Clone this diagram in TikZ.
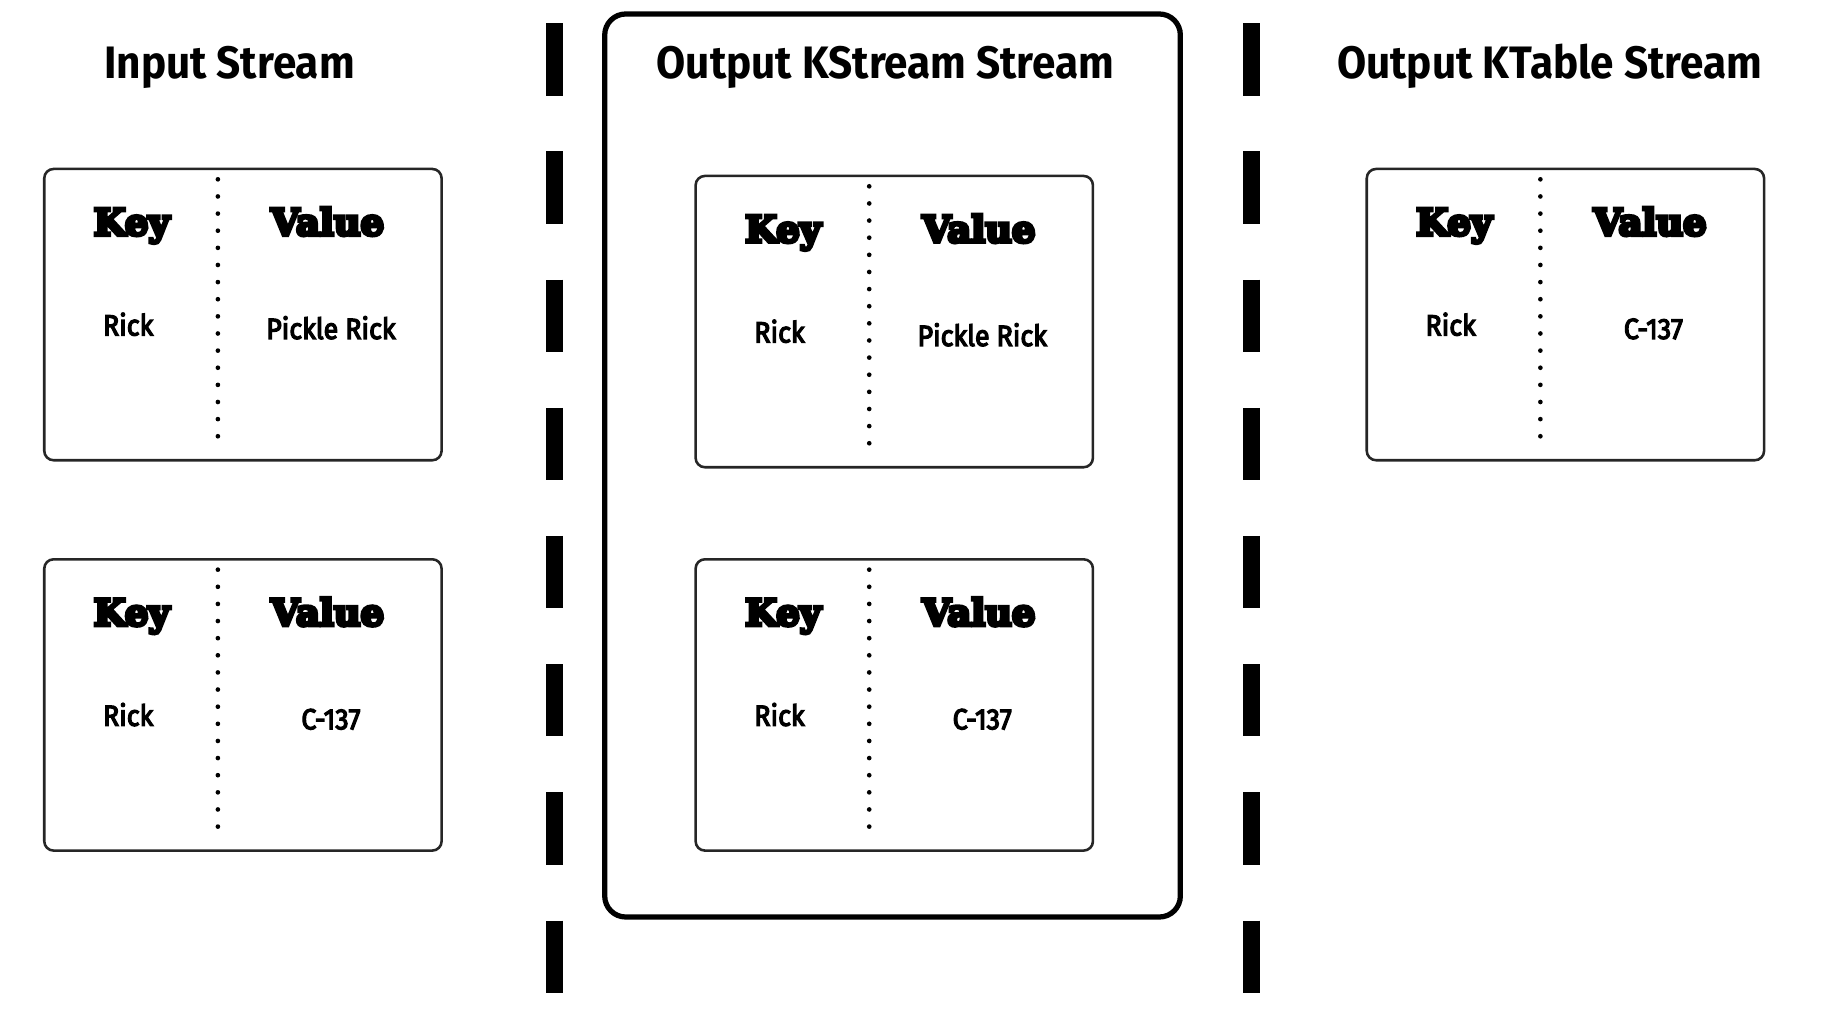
\documentclass[tikz,border=0pt]{standalone}
\usepackage{fontspec}
\setmainfont{Fira Sans}
\newfontfamily\slabfont{DejaVu Serif}
\newfontfamily\cellfont{Fira Sans}
\newfontfamily\ttlfont{Fira Sans}
\newcommand{\heavytext}[2]{\special{pdf:literal direct #1 w 2 Tr}#2\special{pdf:literal direct 0 Tr}}
\begin{document}
\begin{tikzpicture}[x=1pt,y=-1pt,
  kvbox/.style={draw=black!85,line width=2.2pt,rounded corners=8pt,minimum width=341pt,minimum height=250pt,inner sep=0pt},
  divider/.style={line width=4pt,dash pattern=on 0pt off 14.7pt,line cap=round},
  headtxt/.style={anchor=base,font=\slabfont\bfseries\fontsize{31.5}{36}\selectfont,inner sep=0pt},
  celltxt/.style={anchor=base,font=\cellfont\fontsize{25}{28}\selectfont,inner sep=0pt},
  ttltxt/.style={anchor=base,font=\ttlfont\bfseries\fontsize{39}{44}\selectfont,inner sep=0pt},
  sepline/.style={line width=14pt,dash pattern=on 62pt off 48pt},
  bigframe/.style={draw,line width=4.5pt,rounded corners=18pt,inner sep=0pt}
]
\useasboundingbox (0,0) rectangle (1568,889);
\newcommand{\kvb}[4]{%
  \node[kvbox] (#1) at (#2,#3) {};
  \draw[divider] ([xshift=-21.5pt,yshift=-10pt]#1.north) -- ([xshift=-21.5pt,yshift=17pt]#1.south);
  \node[headtxt] (#1k) at ([xshift=-95.5pt,yshift=-58pt]#1.north) {\heavytext{3}{Key}};
  \node[headtxt] (#1v) at ([xshift=72.5pt,yshift=-58pt]#1.north) {\heavytext{3}{Value}};
  \node[celltxt] (#1r) at ([xshift=-98.5pt,yshift=-144pt]#1.north) {\scalebox{0.92}[1]{\heavytext{1.1}{Rick}}};
  \node[celltxt] (#1p) at ([xshift=75.5pt,yshift=-147pt]#1.north) {\scalebox{0.92}[1]{\heavytext{1.1}{#4}}};
}
% separators
\coordinate (s1t) at (476,20); \coordinate (s1b) at (476,852);
\coordinate (s2t) at (1074,20); \coordinate (s2b) at (1074,852);
\draw[sepline] (s1t) -- (s1b);
\draw[sepline] (s2t) -- (s2b);
% middle frame
\node[bigframe,minimum width=494pt,minimum height=775pt] (kstream) at (766,399.5) {};
% titles
\node[ttltxt] (t1) at (197,67) {\scalebox{0.93}[1]{Input Stream}};
\node[ttltxt] (t2) at (760,67) {\scalebox{0.93}[1]{Output KStream Stream}};
\node[ttltxt] (t3) at (1330,67) {\scalebox{0.93}[1]{Output KTable Stream}};
% boxes
\kvb{in1}{208.5}{270}{Pickle Rick}
\kvb{in2}{208.5}{605}{C-137}
\kvb{ks1}{767.5}{276}{Pickle Rick}
\kvb{ks2}{767.5}{605}{C-137}
\kvb{kt1}{1343.5}{270}{C-137}
\end{tikzpicture}
\end{document}
